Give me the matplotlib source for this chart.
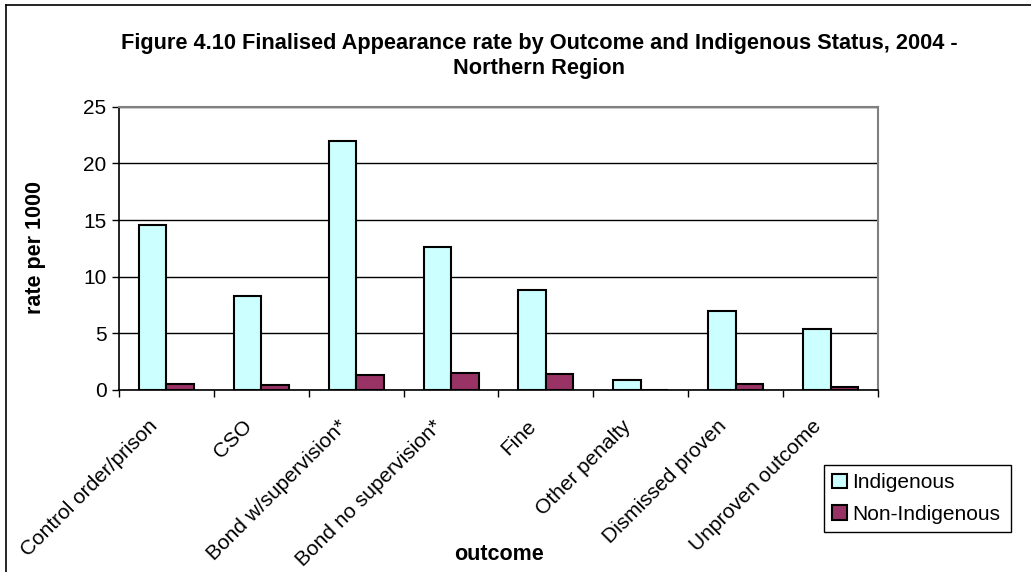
import matplotlib
matplotlib.use("Agg")
import matplotlib.pyplot as plt
import matplotlib.transforms as mtransforms
import numpy as np

plt.rcParams['font.family'] = ['Liberation Sans', 'DejaVu Sans']

categories = ["Control order/prison", "CSO", "Bond w/supervision*",
              "Bond no supervision*", "Fine", "Other penalty",
              "Dismissed proven", "Unproven outcome"]
indigenous = [14.6, 8.3, 22.0, 12.6, 8.8, 0.9, 7.0, 5.4]
non_indigenous = [0.5, 0.4, 1.3, 1.5, 1.4, 0.0, 0.5, 0.3]
yticks = [0, 5, 10, 15, 20, 25]

fig = plt.figure(figsize=(10.31, 5.72), dpi=100)
ax = fig.add_axes([0.1154, 0.3182, 0.7362, 0.4953])

x = np.arange(len(categories)) + 0.5
w = 0.29
ax.bar(x - w / 2, indigenous, w, color="#CCFFFF", edgecolor="black",
       linewidth=1.5, label="Indigenous", zorder=3)
ax.bar(x + w / 2, non_indigenous, w, color="#993366", edgecolor="black",
       linewidth=1.5, label="Non-Indigenous", zorder=3)

ax.set_xlim(0, len(categories))
ax.set_ylim(0, 25)
ax.set_yticks(yticks)
ax.set_yticklabels([str(v) for v in yticks], fontsize=15)
ax.yaxis.grid(True, color="black", linewidth=1, zorder=0)

# category boundary ticks on the x axis, labels centred under each group
ax.set_xticks(np.arange(len(categories) + 1))
ax.set_xticklabels([])
ax.set_xticks(x, minor=True)
ax.set_xticklabels(categories, minor=True, rotation=45, ha="right",
                   va="top", rotation_mode="anchor", fontsize=15)
ax.tick_params(axis="x", which="minor", length=0, pad=19)
shift = mtransforms.ScaledTranslation(-19 / 100, 0, fig.dpi_scale_trans)
for lbl in ax.get_xticklabels(minor=True):
    lbl.set_transform(lbl.get_transform() + shift)
ax.tick_params(axis="x", which="major", length=5, direction="out",
               width=1, color="black")
ax.tick_params(axis="y", length=5, direction="out", width=1, pad=4)

for side in ("top", "right"):
    ax.spines[side].set_color("#808080")
    ax.spines[side].set_linewidth(1.5)
for side in ("left", "bottom"):
    ax.spines[side].set_color("black")
    ax.spines[side].set_linewidth(1.2)

fig.text(35 / 1031, 1 - 248 / 572, "rate per 1000", fontsize=15.5,
         fontweight="bold", rotation=90, ha="center", va="center")
fig.text(499 / 1031, 1 - 555 / 572, "outcome", fontsize=15.5,
         fontweight="bold", ha="center", va="center")

fig.text(539 / 1031, 1 - 56 / 572,
         "Figure 4.10 Finalised Appearance rate by Outcome and Indigenous Status, 2004 -\nNorthern Region",
         fontsize=15.7, fontweight="bold", ha="center", va="center",
         linespacing=1.22)

leg = ax.legend(loc="lower left", bbox_to_anchor=(824 / 1031, 1 - 532 / 572,
                                                   187 / 1031, 67 / 572),
                bbox_transform=fig.transFigure, mode="expand",
                fontsize=15, frameon=True, fancybox=False, framealpha=1,
                edgecolor="black", handlelength=0.7, handleheight=0.7,
                handletextpad=0.25, borderpad=0.4, labelspacing=0.6,
                borderaxespad=0)
leg.get_frame().set_linewidth(1)

# outer chart frame
fig.add_artist(plt.Line2D([6 / 1031, 1], [1 - 5 / 572, 1 - 5 / 572],
                          transform=fig.transFigure, color="black", lw=1.2))
fig.add_artist(plt.Line2D([6 / 1031, 6 / 1031], [0, 1 - 5 / 572],
                          transform=fig.transFigure, color="black", lw=1.2))

fig.savefig("out.png", dpi=100)
